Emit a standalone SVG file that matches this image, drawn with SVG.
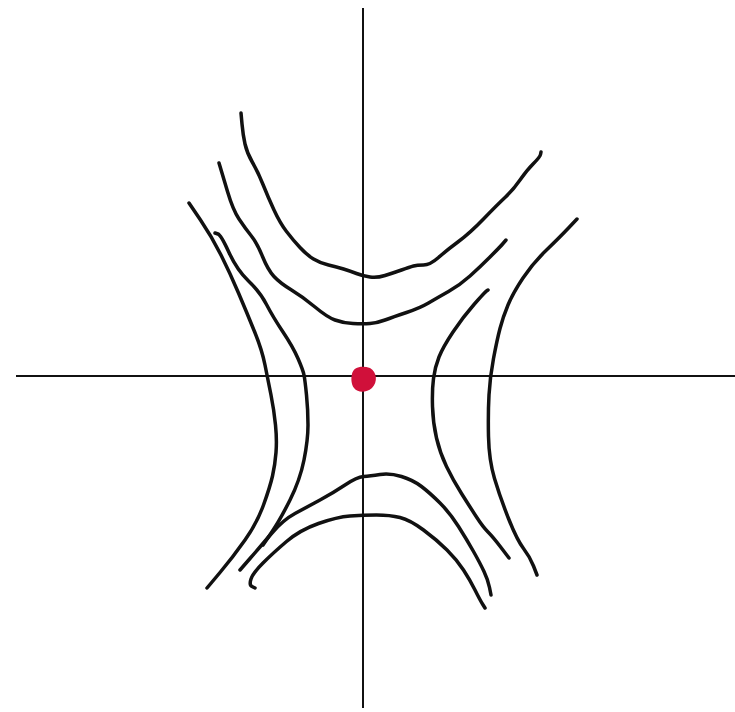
<svg xmlns="http://www.w3.org/2000/svg" width="735" height="712" viewBox="0 0 735 712">
<style>
.ax{stroke:#111;stroke-width:2;fill:none}
.c{stroke:#111;stroke-width:3.5;fill:none;stroke-linecap:round;stroke-linejoin:round}
</style>
<rect width="735" height="712" fill="#fff"/>
<g id="axes">
<line class="ax" x1="363" y1="8" x2="363" y2="708"/>
<line class="ax" x1="16" y1="376" x2="735" y2="376"/>
</g>
<g id="curves">
<path class="c" d="M241,113 L242,124 Q243,135 245,144 Q247,153 252.5,162.5 Q258,172 263,184.5 Q268,197 274,210 Q280,223 286.5,231.5 Q293,240 300,247.5 Q307,255 313.5,259 Q320,263 328.5,265 Q337,267 343.5,269 Q350,271 356.5,273.5 Q363,276 370,277 Q377,278 385,275.5 Q393,273 401.5,270 Q410,267 413.5,266 Q417,265 423.5,265 Q430,265 438.5,257.5 Q447,250 458.5,241.5 Q470,233 483.5,219 Q497,205 505,197.5 Q513,190 520,180 Q527,170 533.5,163.5 Q540,157 540.5,154.5 L541,152"/>
<path class="c" d="M219,163 L220.5,168 Q222,173 227.5,191.5 Q233,210 239,219 Q245,228 251,235.5 Q257,243 262.5,256.5 Q268,270 274,276.5 Q280,283 291.5,290 Q303,297 315,307 Q327,317 335,320 Q343,323 353,323.5 Q363,324 370,323.5 Q377,323 385,320 Q393,317 406.5,312.5 Q420,308 428.5,303 Q437,298 448.5,291.5 Q460,285 470,276 Q480,267 490,257 Q500,247 503,243.5 L506,240"/>
<path class="c" d="M189,203 L200.5,220 Q212,237 221,255 Q230,273 238.5,293 Q247,313 254.5,331.5 Q262,350 265,365 Q268,380 271,395 Q274,410 275.5,425 Q277,440 276,452.5 Q275,465 272.5,476 Q270,487 263.5,505 Q257,523 245,540 Q233,557 220,572.5 L207,588"/>
<path class="c" d="M215,233 L218,234 Q221,235 229,252.5 Q237,270 248.5,281 Q260,292 266.5,304.5 Q273,317 283,332 Q293,347 298,358.5 Q303,370 304,375 Q305,380 306.5,395 Q308,410 308,425 Q308,440 304,460 Q300,480 290,500 Q280,520 271.5,532.5 L263,545"/>
<path class="c" d="M240,570 L250,558.5 Q260,547 271.5,533.5 Q283,520 295,513.5 Q307,507 320,500 Q333,493 345,485 Q357,477 363.5,476.5 Q370,476 380,474.5 Q390,473 401.5,476.5 Q413,480 421.5,486.5 Q430,493 440,503 Q450,513 458.5,526.5 Q467,540 473.5,551.5 Q480,563 484,571.5 Q488,580 489.5,587.5 L491,595"/>
<path class="c" d="M255,588 L252,586.5 Q249,585 251,579 Q253,573 263,563 Q273,553 286.5,541.5 Q300,530 318.5,523.5 Q337,517 350,516 Q363,515 376.5,515 Q390,515 400,517.5 Q410,520 423.5,530 Q437,540 447,550 Q457,560 463.5,570 Q470,580 475,590 Q480,600 482.5,604 L485,608"/>
<path class="c" d="M488,290 L486.5,291 Q485,292 474,304.5 Q463,317 453,332 Q443,347 439,357 Q435,367 433.5,378.5 Q432,390 432.5,406.5 Q433,423 436.5,438 Q440,453 446.5,466.5 Q453,480 461.5,493.5 Q470,507 476.5,517 Q483,527 488,532 Q493,537 501,547.5 L509,558"/>
<path class="c" d="M577,219 L568.5,228 Q560,237 546.5,250 Q533,263 523,278 Q513,293 508,305 Q503,317 500,328.5 Q497,340 493.5,358.5 Q490,377 489,395 Q488,413 488.5,436.5 Q489,460 494.5,478.5 Q500,497 508.5,518.5 Q517,540 523.5,548.5 Q530,557 533.5,566 L537,575"/>
</g>
<g id="dot">
<path d="M352,374 C353,367 362,365 370,368 C377,372 378,382 372,388 C366,393 358,393 354,388 C351,384 351,378 352,374 Z" fill="#d0103a"/>
</g>
</svg>
